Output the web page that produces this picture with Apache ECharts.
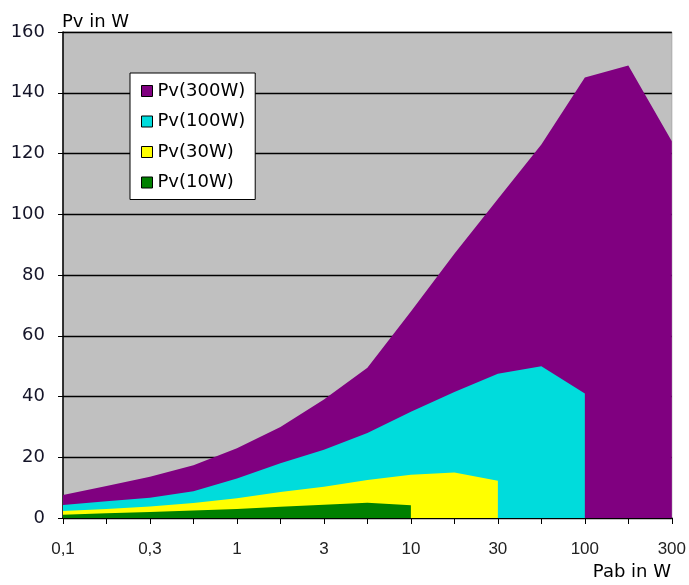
<!DOCTYPE html>
<html>
<head>
<meta charset="utf-8">
<script src="https://cdn.jsdelivr.net/npm/echarts@6/dist/echarts.min.js"></script>
<style>html,body{margin:0;padding:0;background:#fff}#c{width:689px;height:585px}</style>
</head>
<body>
<div id="c"></div>
<script>
const categories = ['0,1','0,2','0,3','0,5','1','2','3','5','10','20','30','50','100','200','300'];
const pv300 = [7.6, 10.5, 13.6, 17.4, 23, 30, 39, 49.5, 68, 87, 105, 123, 145, 149, 124];
const pv100 = [4.3, 5.5, 6.7, 8.8, 13, 18, 22.5, 28, 35, 41.5, 47.5, 50, 41, null, null];
const pv30  = [2.3, 3, 3.8, 4.9, 6.5, 8.6, 10.3, 12.5, 14.2, 15, 12.3, null, null, null, null];
const pv10  = [1.1, 1.6, 2, 2.5, 3, 3.7, 4.4, 5, 4.2, null, null, null, null, null, null];
const seriesNames = ['Pv(300W)','Pv(100W)','Pv(30W)','Pv(10W)'];
const colors = ['#800080','#00dcdc','#ffff00','#008000'];
const yTicks = {min:0, max:160, interval:20};

const chart = echarts.init(document.getElementById('c'), null, {renderer:'canvas'});
const font = 'Liberation Sans, Arial, sans-serif';
const wide = 'DejaVu Sans, Liberation Sans, sans-serif';
const data = [pv300, pv100, pv30, pv10];
chart.setOption({
  animation:false,
  backgroundColor:'#ffffff',
  textStyle:{fontFamily:wide},
  grid:{left:63, right:17, top:32, bottom:67, show:true, backgroundColor:'#c0c0c0', borderColor:'#a8a8a8', borderWidth:1},
  legend:{
    data: seriesNames, orient:'vertical', left:130, top:73,
    backgroundColor:'#ffffff', borderColor:'#000', borderWidth:1,
    padding:[9,10,8,11], itemGap:12.5, itemWidth:11, itemHeight:11, icon:'rect',
    itemStyle:{borderColor:'#000', borderWidth:1},
    textStyle:{fontFamily:wide, fontSize:18, color:'#000'}
  },
  xAxis:{
    type:'category', data:categories, boundaryGap:false,
    axisLine:{lineStyle:{color:'#000', width:1.5}},
    axisTick:{show:true, interval:0, length:6, lineStyle:{color:'#000'}},
    axisLabel:{interval:1, margin:23, fontSize:17, color:'#222', fontFamily:font},
    splitLine:{show:false}
  },
  yAxis:{
    type:'value', min:yTicks.min, max:yTicks.max, interval:yTicks.interval,
    axisLine:{show:true, lineStyle:{color:'#000', width:1.5}},
    axisTick:{show:true, length:5, lineStyle:{color:'#000'}},
    axisLabel:{margin:18, fontSize:18, color:'#141428', fontFamily:wide},
    splitLine:{show:true, lineStyle:{color:'#000', width:1.3}}
  },
  graphic:[
    {type:'text', left:62, top:13, style:{text:'Pv in W', font:'18px '+wide, fill:'#000'}},
    {type:'text', right:18, top:563, style:{text:'Pab in W', font:'18px '+wide, fill:'#000'}}
  ],
  series: data.map((d,i)=>({
    name: seriesNames[i], type:'line', data:d, showSymbol:false, symbol:'none',
    connectNulls:false, z:2+i,
    lineStyle:{width:0, color:colors[i]},
    itemStyle:{color:colors[i]},
    areaStyle:{color:colors[i], opacity:1}
  }))
});
</script>
</body>
</html>
